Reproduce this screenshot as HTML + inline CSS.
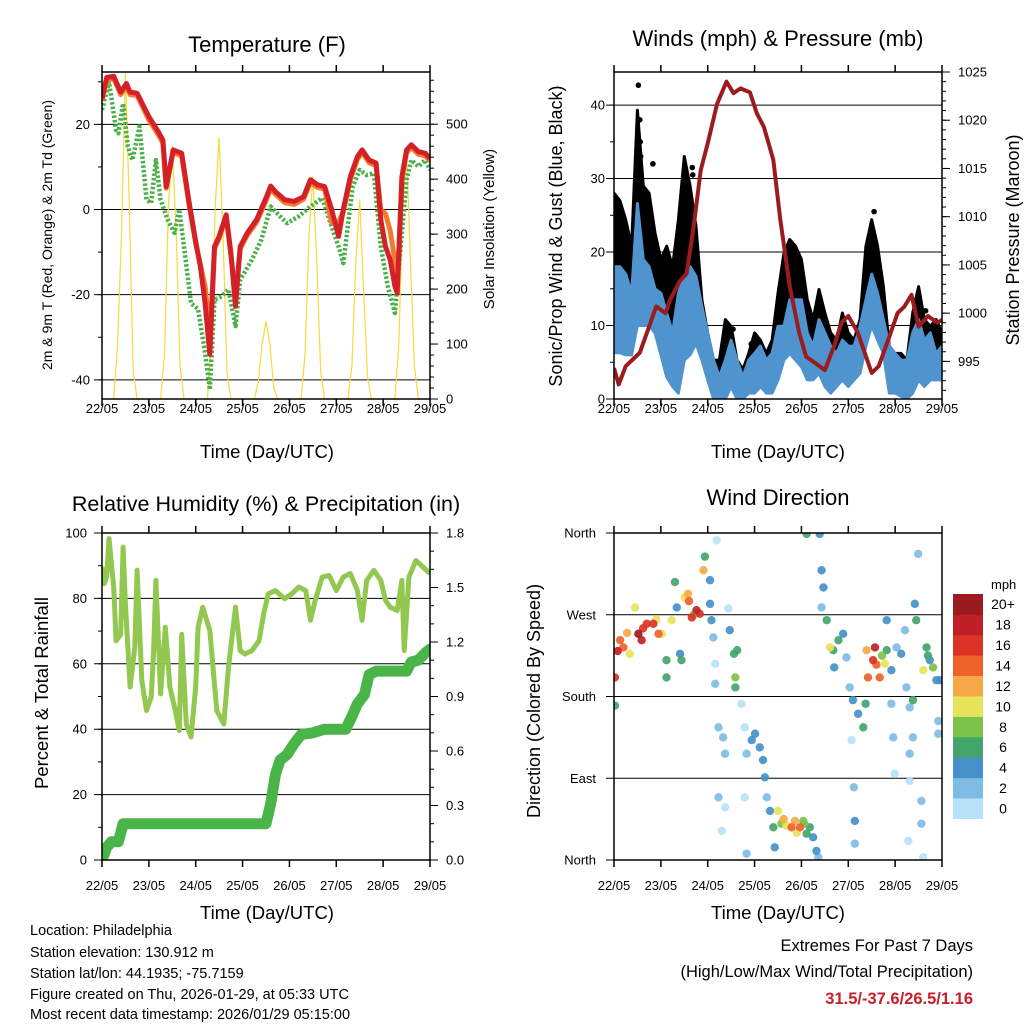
<!DOCTYPE html>
<html><head><meta charset="utf-8"><title>Station meteogram</title>
<style>
html,body{margin:0;padding:0;background:#fff;}
svg{display:block;font-family:"Liberation Sans",Arial,sans-serif;}
</style></head>
<body>
<svg id="fig" width="1024" height="1024" viewBox="0 0 1024 1024" xmlns="http://www.w3.org/2000/svg">
<rect width="1024" height="1024" fill="#fff"/>
<text x="267" y="52" font-size="22" text-anchor="middle">Temperature (F)</text>
<text x="778" y="46" font-size="22" text-anchor="middle">Winds (mph) &amp; Pressure (mb)</text>
<text x="266" y="511" font-size="21.5" text-anchor="middle">Relative Humidity (%) &amp; Precipitation (in)</text>
<text x="778" y="505" font-size="22" text-anchor="middle">Wind Direction</text>

<text transform="translate(52,235) rotate(-90)" font-size="14" text-anchor="middle">2m &amp; 9m T (Red, Orange) &amp; 2m Td (Green)</text>
<text transform="translate(494,229) rotate(-90)" font-size="15" text-anchor="middle">Solar Insolation (Yellow)</text>
<text transform="translate(562,236) rotate(-90)" font-size="18" text-anchor="middle">Sonic/Prop Wind &amp; Gust (Blue, Black)</text>
<text transform="translate(1019,240) rotate(-90)" font-size="18" text-anchor="middle">Station Pressure (Maroon)</text>
<text transform="translate(48,693) rotate(-90)" font-size="18.5" text-anchor="middle">Percent &amp; Total Rainfall</text>
<text transform="translate(540,701) rotate(-90)" font-size="18" text-anchor="middle">Direction (Colored By Speed)</text>

<text x="267" y="458" font-size="18.5" text-anchor="middle">Time (Day/UTC)</text>
<text x="778" y="458" font-size="18.5" text-anchor="middle">Time (Day/UTC)</text>
<text x="267" y="919" font-size="18.5" text-anchor="middle">Time (Day/UTC)</text>
<text x="778" y="919" font-size="18.5" text-anchor="middle">Time (Day/UTC)</text>

<g font-size="14.5">
<text x="30" y="935">Location: Philadelphia</text>
<text x="30" y="957">Station elevation: 130.912 m</text>
<text x="30" y="978">Station lat/lon: 44.1935; -75.7159</text>
<text x="30" y="999">Figure created on Thu, 2026-01-29, at 05:33 UTC</text>
<text x="30" y="1019">Most recent data timestamp: 2026/01/29 05:15:00</text>
</g>
<g font-size="16.5" text-anchor="end">
<text x="973" y="951">Extremes For Past 7 Days</text>
<text x="973" y="977">(High/Low/Max Wind/Total Precipitation)</text>
<text x="973" y="1004" fill="#c8202a" font-weight="bold">31.5/-37.6/26.5/1.16</text>
</g>
<defs>
<clipPath id="c1"><rect x="102" y="72" width="328" height="327"/></clipPath>
<clipPath id="c2"><rect x="614" y="72" width="328" height="327"/></clipPath>
<clipPath id="c3"><rect x="102" y="533" width="328" height="327"/></clipPath>
<clipPath id="c4"><rect x="614" y="533" width="328" height="327"/></clipPath>
</defs>
<g id="layer"></g>
</svg>
<script>
// ---------- data ----------
const dayLabels = ["22/05","23/05","24/05","25/05","26/05","27/05","28/05","29/05"];
// temperature (F)
const tRed = [0,0.1,0.25,0.4,0.52,0.6,0.75,1.0,1.2,1.3,1.37,1.52,1.7,1.85,2.0,2.1,2.2,2.3,2.4,2.5,2.65,2.75,2.85,2.95,3.1,3.3,3.5,3.6,3.7,3.9,4.1,4.3,4.45,4.6,4.75,4.9,5.05,5.15,5.3,5.45,5.55,5.7,5.85,5.95,6.05,6.15,6.25,6.3,6.4,6.5,6.6,6.75,6.9,7.0];
const tempRed = [26,31,31.3,27.6,29.6,27.6,27.3,21.8,18.3,16.3,5.4,14,13.2,2.3,-7.5,-13.4,-22,-34,-8.7,-6.3,-1.25,-10.2,-22.7,-8.7,-5.5,-2.4,2.7,5.5,4.2,2.3,1.9,3,7,5.8,5.4,0,-6.3,0,7.7,12.4,14,11.6,10.9,-2.4,-8.7,-11.8,-18,-19.6,7.7,14,15.2,13.6,13.2,12];
const tempOrange = [25.5,30.5,30.8,27,29,27,26.8,21,17.6,15.6,5,13.4,12.6,1.6,-8,-13,-18,-30,-9.2,-6.8,-1.8,-10.7,-20,-9.2,-6,-3,2,4.9,3.6,1.6,1.2,2.4,6.3,5.2,4.8,-3,-3,-0.5,7,11.8,13.4,11,10.3,0,-1,-5,-12,-19,7,13.4,14.6,13,12.6,11.4];
const tGreen = [0,0.15,0.3,0.35,0.45,0.55,0.65,0.8,0.95,1.05,1.15,1.25,1.4,1.55,1.65,1.75,1.9,2.05,2.2,2.3,2.4,2.55,2.7,2.85,2.95,3.2,3.4,3.6,3.8,3.95,4.2,4.45,4.7,4.9,5.05,5.15,5.35,5.5,5.65,5.8,5.95,6.1,6.25,6.35,6.5,6.6,6.75,6.9,7.0];
const dewGreen = [23.4,30,18.6,17.9,24.9,14.8,11.6,19.5,2.3,1.5,11.6,2.3,-2.4,-5.5,0,-8.7,-22,-23.4,-33.7,-42.3,-21.2,-20.4,-18.8,-27.4,-16.5,-11.8,-7.1,0.7,-1.6,-3.2,-1.6,0.7,2.7,-4,-8.7,-12.6,5.4,9.3,8.1,8.5,-8.7,-18,-24.3,-11.8,7,11.6,10.1,11.6,9.3];
// solar insolation, per day at 06,08,10,12,14,16,18 UTC-hour slots
const solarHours = [6,8,10,12,14,16,18];
const solarDay1 = [0,100,300,595,350,50,0];
const solarDay2 = [0,80,350,460,300,60,0];
const solarDay3 = [0,100,350,475,300,50,0];
const solarDay4 = [0,30,100,141,100,20,0];
const solarDay5 = [0,80,300,405,250,50,0];
const solarDay6 = [0,60,250,362,200,40,0];
const solarDay7 = [0,100,350,447,250,60,0];
// winds (3-hourly)
const windStep = 0.125;
const blueHi = [18,18,17,14.4,26.6,19,18,15,14.4,11.7,9,14.4,16.7,18,16.7,12.6,9,5.3,3,5.3,8,5.3,3,5.3,6.2,7.2,5.3,6.2,9.9,9.9,13.5,13.5,13.5,9,7.2,10.8,9,7.2,6.2,8,7.2,7.2,9.9,13.5,17,14.4,10.8,7.2,6.2,5.3,5.3,9,10.8,8,9,6.2,7.2];
const blueLo = [6.3,6.3,6,6,10,10,10,9,6,3,1.7,0.8,5.3,6,7.6,5.3,2.6,0,0,0,1.7,0,0,0.8,0.8,1.7,0.8,0.8,2.6,5.3,6.2,5.3,4.4,2.6,2.6,3.5,1.7,0.8,1.7,2.6,1.7,2.6,3.5,7.2,10,8,6.2,0.8,0.8,0.4,0,0.8,2.6,1.7,2.6,2.6,2.6];
const gustHi = [28,27,24.4,20.8,39.3,29,28,22.6,19,20.8,18,24.4,33,29,23.5,13.5,9,5.3,5.3,10.8,9.9,5.3,4,6.2,9,8,6.2,8,14.4,19.8,21.7,20.8,19,13.5,10.8,14.9,11.7,9,8,11.7,9,8,10.8,20.8,24.4,20.8,15.3,7.2,6.2,6.2,5.3,11.7,15.3,10.8,9.9,10.8,9];
const gustOutT = [0.52,0.55,0.56,0.57,0.83,1.67,1.68,0.03,2.54,2.93,5.55,6.65];
const gustOutV = [42.7,38,35,33,32,31.5,30.5,22,9.5,7.5,25.5,12];
// pressure (mb)
const tPres = [0,0.1,0.25,0.4,0.55,0.75,0.9,1.1,1.2,1.4,1.55,1.7,1.85,2.0,2.2,2.4,2.55,2.7,2.9,3.05,3.2,3.4,3.55,3.75,3.95,4.1,4.3,4.5,4.7,4.85,5.0,5.2,5.35,5.5,5.65,5.85,6.05,6.2,6.35,6.5,6.7,6.9,7.0];
const pres = [994.3,992.6,994.5,995.2,995.9,998.6,1000.7,1000,1001.4,1003.3,1004.1,1009,1014.8,1017.6,1021.7,1024,1022.8,1023.3,1022.9,1020.7,1019.3,1015.9,1009.7,1002.8,998,995.5,994.8,994.1,996.6,999,999.7,998,995.9,993.8,994.5,997.2,1000,1000.7,1001.9,998.6,999.7,999,999.3];
// relative humidity (%)
const tRH = [0,0.05,0.1,0.15,0.25,0.3,0.4,0.45,0.5,0.6,0.7,0.75,0.85,0.95,1.05,1.1,1.15,1.25,1.35,1.45,1.55,1.65,1.7,1.8,1.9,2.0,2.05,2.15,2.3,2.45,2.6,2.7,2.85,2.95,3.05,3.2,3.35,3.45,3.55,3.7,3.9,4.05,4.2,4.35,4.45,4.55,4.7,4.85,5.0,5.15,5.3,5.45,5.55,5.65,5.8,5.95,6.05,6.15,6.3,6.4,6.45,6.55,6.7,6.85,7.0];
const rh = [89.6,84.5,86.5,98.3,83.5,67,69,95.7,78.4,52.9,65,88.6,54.9,45.7,49.8,63,85.5,50.8,71.2,52.9,46.7,39.6,69,41.6,37.6,52.9,71.2,77.3,70.2,45.7,41.6,59,77.3,64,63,64,67,75.3,81.4,82.4,79.9,81.4,83.5,82.4,73.3,79.4,86.5,87,82.4,86.5,87.6,82.4,73.3,85.5,88.6,85.5,79.4,77.3,76.3,85.5,64,86.5,91.6,89.6,87.6];
// cumulative precipitation (in)
const tPrecip = [0,0.1,0.2,0.35,0.45,0.7,3.5,3.6,3.7,3.8,3.95,4.1,4.25,4.5,4.75,5.0,5.2,5.35,5.45,5.6,5.7,5.85,6.5,6.6,6.75,6.9,7.0];
const precip = [0,0.07,0.1,0.1,0.2,0.2,0.2,0.31,0.47,0.55,0.58,0.64,0.69,0.7,0.72,0.72,0.72,0.8,0.86,0.91,1.02,1.04,1.04,1.09,1.1,1.14,1.16];
// wind direction (deg) and speed (mph)
const dirT = [0.02,0.02,0.13,0.2,0.34,0.45,0.52,0.59,0.7,0.84,0.95,1.02,1.12,1.12,1.23,1.3,1.34,1.41,1.44,1.51,1.58,1.66,1.76,1.83,1.91,1.94,2.05,2.05,2.08,2.12,2.16,2.19,2.16,2.23,2.33,2.37,2.23,2.37,2.3,2.44,2.47,2.56,2.63,2.59,2.59,2.72,2.79,2.83,2.79,2.83,2.94,3.01,3.11,3.18,3.22,3.26,3.33,3.4,3.43,3.5,3.57,3.68,3.79,3.86,3.97,4.04,4.11,4.18,4.25,4.32,4.36,4.11,4.39,4.43,4.47,4.43,4.54,4.61,4.68,4.79,4.7,4.89,4.96,5.03,5.1,5.21,5.32,5.37,5.07,5.12,5.14,5.14,5.39,5.42,5.53,5.57,5.67,5.78,5.82,5.82,5.92,5.92,5.96,5.99,6.03,6.13,6.21,6.24,6.31,6.38,6.42,6.45,6.49,6.38,6.31,6.31,6.28,6.56,6.56,6.6,6.67,6.74,6.81,6.88,6.95,6.92,6.92,6.6,0.08,0.28,0.62,0.9,1.6,1.7,3.62,3.9,4.06,5.6,5.72,6.7];
const dirD = [201,170,242,234,227,278,249,242,260,260,249,249,220,201,264,306,278,227,220,289,293,267,275,271,319,334,308,282,264,245,216,352,194,146,135,117,69,58,32,277,253,227,231,201,190,172,146,117,69,7,132,139,124,110,91,69,54,36,14,54,40,38,36,43,36,43,29,36,25,10,3,359,359,319,300,278,264,234,231,242,212,249,223,190,176,161,146,172,132,80,43,18,231,201,220,234,201,216,231,264,209,172,135,95,234,227,253,190,168,176,282,264,337,135,117,87,21,65,40,209,234,220,212,198,198,153,139,3,230,250,255,265,285,270,45,30,40,215,225,225];
const dirS = [16,7,14,15,10,11,20,19,16,17,14,10,7,6,10,6,4,5,6,10,13,17,18,16,12,6,4,4,4,2,1,0,3,2,2,3,3,1,0,1,4,6,7,8,6,1,0,2,1,2,4,5,4,4,4,3,5,6,4,10,9,11,14,12,15,9,6,7,5,4,3,6,4,4,4,2,7,10,7,6,4,4,3,2,4,4,6,6,1,3,4,3,13,14,16,18,14,10,6,4,4,3,2,1,3,4,2,3,2,7,4,6,2,3,2,1,0,3,2,10,6,4,8,4,5,2,2,1,18,12,16,11,14,8,13,11,8,15,9,6];
const speedBins = ["0","2","4","6","8","10","12","14","16","18","20+"];
const speedColors = ["#b8e2f8","#7fbce5","#4791c9","#42a56c","#7dc24a","#e6e35b","#f8a847","#f0622b","#dd3326","#c11f26","#9a1a1e"];

// ---------- helpers ----------
const NS = "http://www.w3.org/2000/svg";
const layer = document.getElementById("layer");
function mk(tag, attrs, parent){
  const e = document.createElementNS(NS, tag);
  for (const k in attrs) e.setAttribute(k, attrs[k]);
  (parent||layer).appendChild(e);
  return e;
}
function scale(d0,d1,r0,r1){ return v => r0 + (v-d0)/(d1-d0)*(r1-r0); }

const P1 = {x0:102,x1:430,y0:72,y1:399,lab:14};
const P2 = {x0:614,x1:942,y0:72,y1:399,lab:14};
const P3 = {x0:102,x1:430,y0:533,y1:860,lab:30};
const P4 = {x0:614,x1:942,y0:533,y1:860,lab:30};

function xAxis(P, name){
  const xs = scale(0,7,P.x0,P.x1);
  const g = mk("g",{});
  
  
  for (let i=0;i<dayLabels.length;i++){
    const x = xs(i);
    mk("line",{x1:x,x2:x,y1:P.y1,y2:P.y1+7,stroke:"#000","stroke-width":1.5},g);
    mk("line",{x1:x,x2:x,y1:P.y0,y2:P.y0-7,stroke:"#000","stroke-width":1.5},g);
    const t = mk("text",{x:x,y:P.y1+P.lab,"font-size":13,"text-anchor":"middle"},g);
    
    
    t.textContent = dayLabels[i];
  }
  return xs;
}
function leftAxis(P, lo, hi, majors, minorStep, labelFn, name, labelX){
  const ys = scale(lo,hi,P.y1,P.y0);
  const g = mk("g",{});
  
  
  const start = Math.ceil(lo/minorStep)*minorStep;
  for (let v=start; v<=hi+1e-9; v+=minorStep){
    const y = ys(v);
    mk("line",{x1:P.x0-4,x2:P.x0,y1:y,y2:y,stroke:"#000","stroke-width":1},g);
  }
  majors.forEach(v=>{
    const y = ys(v);
    mk("line",{x1:P.x0-8,x2:P.x1,y1:y,y2:y,stroke:"#000","stroke-width":1},g);
    const t = mk("text",{x:labelX,y:y+4.5,"font-size":13,"text-anchor":"end"},g);
    
    
    t.textContent = labelFn(v);
  });
  return ys;
}
function rightAxis(P, lo, hi, majors, minorStep, labelFn, name){
  const ys = scale(lo,hi,P.y1,P.y0);
  const g = mk("g",{});
  
  
  const start = Math.ceil(lo/minorStep-1e-9)*minorStep;
  for (let v=start; v<=hi+1e-9; v+=minorStep){
    const y = ys(v);
    mk("line",{x1:P.x1,x2:P.x1+4,y1:y,y2:y,stroke:"#000","stroke-width":1},g);
  }
  majors.forEach(v=>{
    const y = ys(v);
    mk("line",{x1:P.x1,x2:P.x1+8,y1:y,y2:y,stroke:"#000","stroke-width":1},g);
    const t = mk("text",{x:P.x1+16,y:y+4.5,"font-size":13,"text-anchor":"start"},g);
    
    
    t.textContent = labelFn(v);
  });
  return ys;
}
function box(P,name){
  const r = mk("rect",{x:P.x0,y:P.y0,width:P.x1-P.x0,height:P.y1-P.y0,fill:"none",stroke:"#000","stroke-width":1.5});
  
  
}
function path(xs,ys,T,V){
  return T.map((t,i)=>(i?"L":"M")+xs(t).toFixed(1)+","+ys(V[i]).toFixed(1)).join("");
}

// ---------- panel 1: temperature ----------
{
  const xs = xAxis(P1,'temp');
  const yT = leftAxis(P1,-44.5,32.3,[-40,-20,0,20],10,v=>String(v),'temp-left-axis',90);
  const yS = rightAxis(P1,0,595,[0,100,200,300,400,500],20,v=>String(v),'solar-right-axis');
  const g = mk("g",{"clip-path":"url(#c1)"});
  const solarDays = [solarDay1,solarDay2,solarDay3,solarDay4,solarDay5,solarDay6,solarDay7];
  const sT=[], sV=[];
  solarDays.forEach((d,di)=>d.forEach((v,hi)=>{sT.push(di+solarHours[hi]/24); sV.push(v);}));
  let e = mk("path",{d:path(xs,yS,sT,sV),fill:"none",stroke:"#f6d93a","stroke-width":1.2,"stroke-linejoin":"round"},g);
  
  
  e = mk("path",{d:path(xs,yT,tGreen,dewGreen),fill:"none",stroke:"#4cb04a","stroke-width":4.5,"stroke-dasharray":"2.5 2","stroke-linejoin":"round"},g);
  
  
  e = mk("path",{d:path(xs,yT,tRed,tempOrange),fill:"none",stroke:"#f27b30","stroke-width":5,"stroke-linejoin":"round"},g);
  
  
  e = mk("path",{d:path(xs,yT,tRed,tempRed),fill:"none",stroke:"#d42027","stroke-width":5,"stroke-linejoin":"round"},g);
  
  
  box(P1,'temp-plot-frame');
}
// ---------- panel 2: winds ----------
{
  const xs = xAxis(P2,'wind');
  const yW = leftAxis(P2,0,44.5,[0,10,20,30,40],5,v=>String(v),'wind-left-axis',605);
  const yP = rightAxis(P2,991.1,1025,[995,1000,1005,1010,1015,1020,1025],1,v=>String(v),'pressure-right-axis');
  const g = mk("g",{"clip-path":"url(#c2)"});
  const tw = blueHi.map((_,i)=>i*windStep);
  const band = (hi,lo)=>{
    let d = tw.map((t,i)=>(i?"L":"M")+xs(t).toFixed(1)+","+yW(hi[i]).toFixed(1)).join("");
    for (let i=tw.length-1;i>=0;i--) d += "L"+xs(tw[i]).toFixed(1)+","+yW(lo[i]).toFixed(1);
    return d+"Z";
  };
  const blackLo = blueLo.map((v,i)=>Math.min(blueHi[i], v+1.5));
  let e = mk("path",{d:band(gustHi,blackLo),fill:"#000",stroke:"#000","stroke-width":3,"stroke-linejoin":"round"},g);
  
  
  gustOutT.forEach((t,i)=>{
    const c = mk("circle",{cx:xs(t),cy:yW(gustOutV[i]),r:2.8,fill:"#000"},g);
    
    
  });
  e = mk("path",{d:band(blueHi,blueLo),fill:"#4f93cf",stroke:"#4f93cf","stroke-width":3,"stroke-linejoin":"round"},g);
  
  
  e = mk("path",{d:path(xs,yP,tPres,pres),fill:"none",stroke:"#9b1c1f","stroke-width":4,"stroke-linejoin":"round"},g);
  
  
  box(P2,'wind-plot-frame');
}
// ---------- panel 3: RH & precip ----------
{
  const xs = xAxis(P3,'rh');
  const yR = leftAxis(P3,0,100,[0,20,40,60,80,100],10,v=>String(v),'rh-left-axis',87);
  const yI = rightAxis(P3,0,1.8,[0,0.3,0.6,0.9,1.2,1.5,1.8],0.1,v=>v.toFixed(1),'precip-right-axis');
  const g = mk("g",{"clip-path":"url(#c3)"});
  let e = mk("path",{d:path(xs,yR,tRH,rh),fill:"none",stroke:"#92c84f","stroke-width":5,"stroke-linejoin":"round"},g);
  
  
  e = mk("path",{d:path(xs,yI,tPrecip,precip),fill:"none",stroke:"#49b447","stroke-width":11,"stroke-linejoin":"round","stroke-linecap":"round"},g);
  
  
  box(P3,'rh-plot-frame');
}
// ---------- panel 4: wind direction ----------
{
  const xs = xAxis(P4,'dir');
  const yD = scale(0,360,P4.y1,P4.y0);
  const dirNames = ["North","East","South","West","North"];
  const dirVals = [0,90,180,270,360];
  const g0 = mk("g",{});
  
  
  dirVals.forEach((v,i)=>{
    const y = yD(v);
    mk("line",{x1:P4.x0-8,x2:P4.x1,y1:y,y2:y,stroke:"#000","stroke-width":1},g0);
    const t = mk("text",{x:596,y:y+4.5,"font-size":13,"text-anchor":"end"},g0);
    
    
    t.textContent = dirNames[i];
  });
  const g = mk("g",{"clip-path":"url(#c4)"});
  const order = dirS.map((s,i)=>i).sort((a,b)=>dirS[a]-dirS[b]);
  order.forEach(i=>{
    const bin = Math.min(10,Math.floor(dirS[i]/2));
    const c = mk("circle",{cx:xs(dirT[i]),cy:yD(dirD[i]),r:4.2,fill:speedColors[bin],"fill-opacity":0.92},g);
    
    
  });
  box(P4,'dir-plot-frame');
  // colorbar
  const cb = mk("g",{});
  
  
  const t0 = mk("text",{x:991,y:589,"font-size":13,"text-anchor":"start"},cb);
  
  
  t0.textContent = "mph";
  const bh = (818.7-594)/speedBins.length;
  speedBins.forEach((lab,i)=>{
    const y = 818.7-(i+1)*bh;
    const r = mk("rect",{x:953,y:y,width:30,height:bh+0.3,fill:speedColors[i]},cb);
    
    
    const t = mk("text",{x:1003,y:y+bh/2+5,"font-size":14,"text-anchor":"middle"},cb);
    
    
    t.textContent = lab;
  });
}
</script>
</body></html>
